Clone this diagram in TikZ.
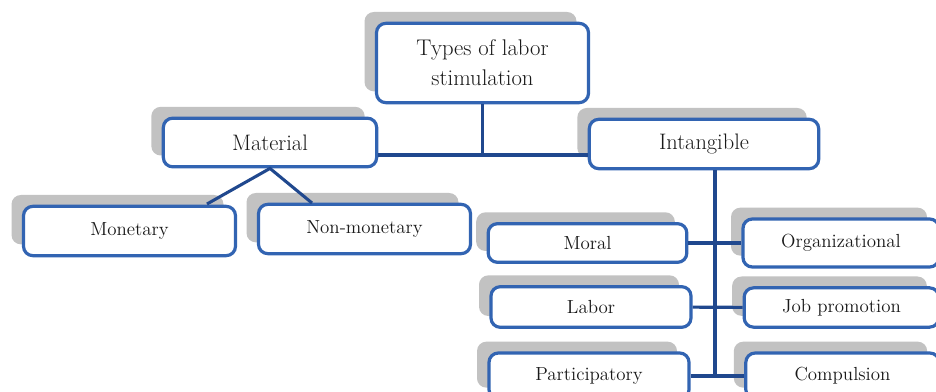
\documentclass[tikz,border=0pt]{standalone}
\usepackage{tikz}
\usetikzlibrary{shadows}
\definecolor{stblue}{RGB}{50,100,178}
\definecolor{stnavy}{RGB}{32,72,142}
\definecolor{stgray}{RGB}{194,194,194}
\definecolor{sttext}{RGB}{25,25,25}

\begin{document}
\begin{tikzpicture}[x=0.75pt, y=-0.75pt,
  box/.style={draw=stblue, line width=2.4pt, rounded corners=7pt, fill=white,
    text=sttext, align=center, inner sep=0pt,
    general shadow={fill=stgray, shadow xshift=-9pt, shadow yshift=8.5pt}},
  big/.style={box, font=\fontsize{17}{22.5}\selectfont},
  mid/.style={box, font=\fontsize{16.8}{19}\selectfont},
  leaf/.style={box, font=\fontsize{14.2}{16}\selectfont},
  link/.style={stnavy, line width=2.3pt}]
\useasboundingbox (0,0) rectangle (936,392);
\clip (0,0) rectangle (936,392);
\node[big, minimum width=159pt, minimum height=59.5pt] (types) at (482.5,63) {Types of labor\\stimulation};
\node[mid, minimum width=160pt, minimum height=36.5pt] (mat) at (270,142.5) {Material};
\node[mid, minimum width=172pt, minimum height=37pt] (intang) at (704,144) {Intangible};
\node[leaf, minimum width=159pt, minimum height=37pt] (mon) at (129.5,231) {Monetary};
\node[leaf, minimum width=159pt, minimum height=37pt] (nonmon) at (364.5,229) {Non-monetary};
\node[leaf, minimum width=149pt, minimum height=29pt] (moral) at (587.5,243) {Moral};
\node[leaf, minimum width=147pt, minimum height=36pt] (org) at (841,243) {Organizational};
\node[leaf, minimum width=150pt, minimum height=30.5pt] (labor) at (591,307) {Labor};
\node[leaf, minimum width=146pt, minimum height=29.5pt] (jobp) at (841.5,307.5) {Job promotion};
\node[leaf, minimum width=150pt, minimum height=34.5pt] (part) at (589,376) {Participatory};
\node[leaf, minimum width=145pt, minimum height=34.5pt] (comp) at (842.5,376) {Compulsion};
\coordinate (hub) at (482.5,155);
\coordinate (monin) at (207,204);
\coordinate (nonin) at (312,203);
\coordinate (spine) at (715,376);
\draw[link] (types) -- (hub);
\draw[link] (mat.east |- hub) -- (intang.west |- hub);
\draw[link] (monin) -- (mat.south) -- (nonin);
\draw[link] (intang.south -| spine) -- (spine);
\draw[link] (moral) -- (org);
\draw[link] (labor) -- (jobp);
\draw[link] (part) -- (comp);
\end{tikzpicture}
\end{document}
